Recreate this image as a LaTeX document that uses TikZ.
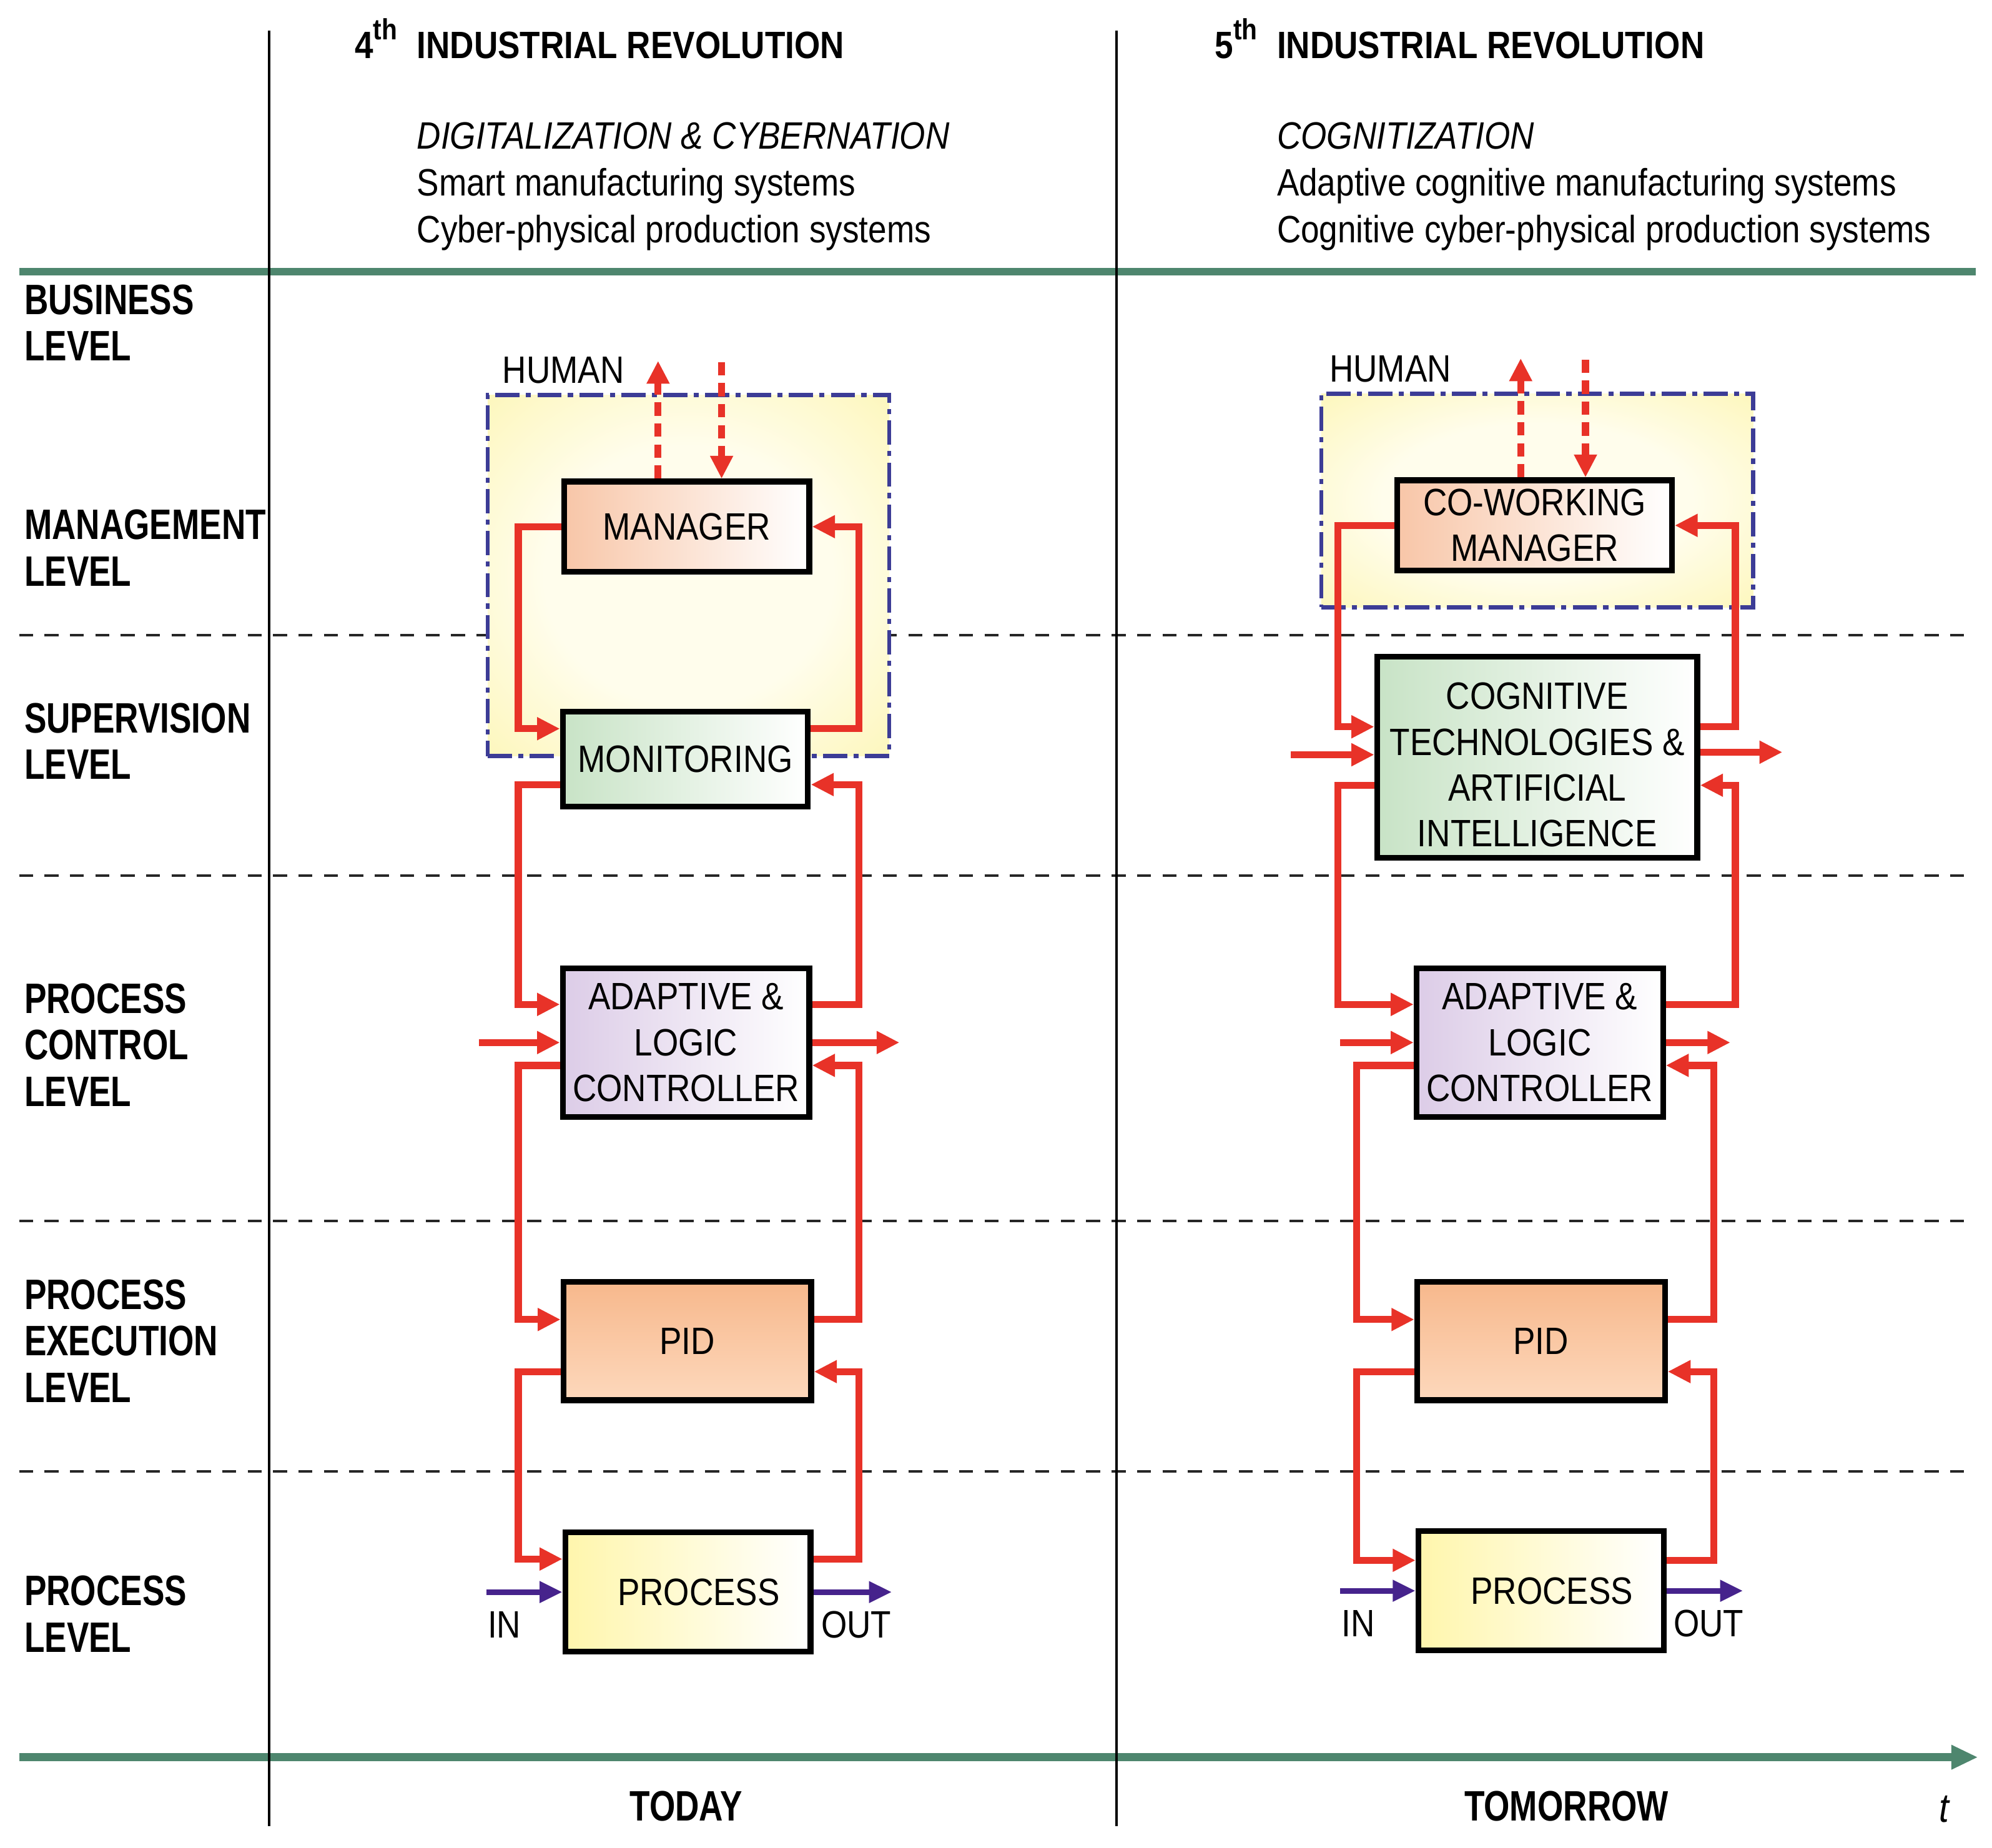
\documentclass[tikz,border=0pt]{standalone}
\usepackage{fontspec}
\setmainfont{Liberation Sans}[FakeStretch=0.87]
\newfontfamily\levelfont{Liberation Sans}[FakeStretch=0.78]
\usetikzlibrary{arrows.meta,calc}

\definecolor{axisgreen}{RGB}{78,134,110}
\definecolor{loopred}{RGB}{232,50,40}
\definecolor{flowpurple}{RGB}{70,35,140}
\definecolor{humanblue}{RGB}{60,60,150}
\definecolor{humanyellow}{RGB}{252,243,160}
\definecolor{humanlight}{RGB}{255,253,236}
\definecolor{mgrpeach}{RGB}{248,198,168}
\definecolor{mongreen}{RGB}{200,227,198}
\definecolor{ctllilac}{RGB}{220,204,231}
\definecolor{pidtop}{RGB}{247,184,140}
\definecolor{pidbottom}{RGB}{253,216,188}
\definecolor{procyellow}{RGB}{255,246,172}

\pgfdeclareradialshading{humanglow}{\pgfpoint{0bp}{0bp}}{color(0bp)=(humanlight); color(18bp)=(humanlight); color(46bp)=(humanyellow); color(80bp)=(humanyellow)}

\begin{document}
\begin{tikzpicture}[x=1pt,y=-1pt]
			\tikzset{
			    txt/.style={font=\fontsize{30}{36}\selectfont, inner sep=0pt},
			    lvl/.style={font=\levelfont\bfseries\fontsize{33.5}{36.5}\selectfont, align=left, inner sep=0pt, anchor=north west},
			    blk/.style={draw=black, line width=4.5pt, align=center, inner sep=0pt, font=\fontsize{30}{36}\selectfont},
			    humanbox/.style={draw=humanblue, line width=3.2pt, dash pattern=on 19pt off 5pt on 4pt off 5pt, shade, shading=humanglow},
			    redarr/.style={draw=loopred, line width=5.5pt, -{Triangle[length=18pt,width=17pt]}},
			    humarr/.style={redarr, dash pattern=on 10.5pt off 6pt},
			    flow/.style={draw=flowpurple, line width=4.5pt, -{Triangle[length=18pt,width=16pt]}},
			    level line/.style={draw=black!85, line width=1.8pt, dash pattern=on 11pt off 9pt}}
			\useasboundingbox (0,0) rectangle (1568,1454.4);
			% frame
			\draw[axisgreen, line width=6pt] (15,214) -- (1555,214);
			\draw[axisgreen, line width=6.5pt, -{Triangle[length=21pt,width=18pt]}] (15,1383) -- (1557,1383);
			\foreach \y in {500,689,961,1158}
			    \draw[level line] (15,\y) -- (1555,\y);
			\foreach \x in {212,879}
			    \draw[line width=1.8pt] (\x,24) -- (\x,1437);
			% levels
			\node[lvl] (bus) at (19,224) {BUSINESS\\LEVEL};
			\node[lvl] (man) at (19,401) {MANAGEMENT\\LEVEL};
			\node[lvl] (sup) at (19,553) {SUPERVISION\\LEVEL};
			\node[lvl] (pcl) at (19,774) {PROCESS\\CONTROL\\LEVEL};
			\node[lvl] (pex) at (19,1007) {PROCESS\\EXECUTION\\LEVEL};
			\node[lvl] (prl) at (19,1240) {PROCESS\\LEVEL};
			% headings
			\node[txt, font=\bfseries\fontsize{30}{36}\selectfont, anchor=base west] (rev4) at (328,46) {INDUSTRIAL REVOLUTION};
			\node[txt, font=\bfseries\fontsize{30}{36}\selectfont, anchor=base east] (ord4) at ([xshift=-15pt]rev4.base west) {4\raisebox{15pt}{\fontsize{23}{23}\selectfont th}};
			\node[txt, font=\bfseries\fontsize{30}{36}\selectfont, anchor=base west] (rev5) at (1005,46) {INDUSTRIAL REVOLUTION};
			\node[txt, font=\bfseries\fontsize{30}{36}\selectfont, anchor=base east] (ord5) at ([xshift=-15pt]rev5.base west) {5\raisebox{15pt}{\fontsize{23}{23}\selectfont th}};
			\node[txt, font=\fontsize{30}{37}\selectfont, align=left, anchor=north west] (sub4) at (328,96)
			    {\textit{DIGITALIZATION \& CYBERNATION}\\Smart manufacturing systems\\Cyber-physical production systems};
			\node[txt, font=\fontsize{30}{37}\selectfont, align=left, anchor=north west] (sub5) at (1005,96)
			    {\textit{COGNITIZATION}\\Adaptive cognitive manufacturing systems\\Cognitive cyber-physical production systems};
			\node[lvl, anchor=base] (today) at (540,1433) {TODAY};
			\node[lvl, anchor=base] (tomorrow) at (1233,1433) {TOMORROW};
			\node[txt, font=\fontsize{32}{36}\selectfont, anchor=base] (tlbl) at (1531,1434) {\textit{t}};

			% 4th revolution
			\node[humanbox, minimum width=316pt, minimum height=284pt] (hum4) at (542,453) {};
			\node[txt, anchor=base west] (hlbl4) at ([xshift=13pt,yshift=8pt]hum4.north west) {HUMAN};
			\node[blk, minimum width=193pt, minimum height=71pt, left color=mgrpeach, right color=white] (mgr4) at (540.5,414.5) {MANAGER};
			\node[blk, minimum width=193pt, minimum height=75pt, left color=mongreen, right color=white] (mon4) at (539.5,597.5) {MONITORING};
			\node[blk, minimum width=194pt, minimum height=117pt, left color=ctllilac, right color=white] (ctl4) at (540,820.5) {ADAPTIVE \&\\LOGIC\\CONTROLLER};
			\node[blk, minimum width=195pt, minimum height=93pt, top color=pidtop, bottom color=pidbottom] (pid4) at (541,1055.5) {PID};
			\node[blk, minimum width=193pt, minimum height=94pt, left color=procyellow, right color=white] (proc4) at (541.5,1253) {\hspace*{17pt}PROCESS};
			\coordinate (railL4) at (408,0);
			\coordinate (railR4) at (676,0);
			\coordinate (in4) at (377,0);
			\coordinate (out4) at (708,0);
			\coordinate (pin4) at (383,0);
			\coordinate (pout4) at (702,0);
			\coordinate (hup4) at (518,284);
			\coordinate (hdn4) at (568,285);
			\draw[humarr] (mgr4.north -| hup4) -- (hup4);
			\draw[humarr] (hdn4) -- (hdn4 |- mgr4.north);
			\draw[redarr] (mgr4.west) -- (mgr4.west -| railL4) |- ([yshift=24pt]mon4.west);
			\draw[redarr] ([yshift=24pt]mon4.east) -- ([yshift=24pt]mon4.east -| railR4) |- (mgr4.east);
			\draw[redarr] ([yshift=-20pt]mon4.west) -- ([yshift=-20pt]mon4.west -| railL4) |- ([yshift=30pt]ctl4.west);
			\draw[redarr] ([yshift=30pt]ctl4.east) -- ([yshift=30pt]ctl4.east -| railR4) |- ([yshift=-20pt]mon4.east);
			\draw[redarr] ([yshift=-18pt]ctl4.west) -- ([yshift=-18pt]ctl4.west -| railL4) |- ([yshift=17pt]pid4.west);
			\draw[redarr] ([yshift=17pt]pid4.east) -- ([yshift=17pt]pid4.east -| railR4) |- ([yshift=-18pt]ctl4.east);
			\draw[redarr] ([yshift=-24pt]pid4.west) -- ([yshift=-24pt]pid4.west -| railL4) |- ([yshift=26pt]proc4.west);
			\draw[redarr] ([yshift=26pt]proc4.east) -- ([yshift=26pt]proc4.east -| railR4) |- ([yshift=-24pt]pid4.east);
			\draw[redarr] (ctl4.west -| in4) -- (ctl4.west);
			\draw[redarr] (ctl4.east) -- (ctl4.east -| out4);
			\draw[flow] (proc4.west -| pin4) -- (proc4.west);
			\draw[flow] (proc4.east) -- (proc4.east -| pout4);
			\node[txt, anchor=base] (inl4) at (397,1289) {IN};
			\node[txt, anchor=base] (outl4) at (674,1289) {OUT};

			% 5th revolution
			\node[humanbox, minimum width=340pt, minimum height=168pt] (hum5) at (1210,394) {};
			\node[txt, anchor=base west] (hlbl5) at ([xshift=8pt,yshift=8pt]hum5.north west) {HUMAN};
			\node[blk, minimum width=216pt, minimum height=71pt, left color=mgrpeach, right color=white] (mgr5) at (1208,413.5) {CO-WORKING\\MANAGER};
			\node[blk, minimum width=252pt, minimum height=158pt, left color=mongreen, right color=white] (cog5) at (1210,596) {\rule{0pt}{33pt}COGNITIVE\\TECHNOLOGIES \&\\ARTIFICIAL\\INTELLIGENCE};
			\node[blk, minimum width=194pt, minimum height=117pt, left color=ctllilac, right color=white] (ctl5) at (1212,820.5) {ADAPTIVE \&\\LOGIC\\CONTROLLER};
			\node[blk, minimum width=195pt, minimum height=93pt, top color=pidtop, bottom color=pidbottom] (pid5) at (1213,1055.5) {PID};
			\node[blk, minimum width=193pt, minimum height=94pt, left color=procyellow, right color=white] (proc5) at (1213,1252) {\hspace*{17pt}PROCESS};
			\coordinate (railLa5) at (1053,0);
			\coordinate (railLb5) at (1068,0);
			\coordinate (railRa5) at (1366,0);
			\coordinate (railRb5) at (1349,0);
			\coordinate (cin5) at (1016,0);
			\coordinate (cout5) at (1403,0);
			\coordinate (in5) at (1055,0);
			\coordinate (out5) at (1362,0);
			\coordinate (pin5) at (1055,0);
			\coordinate (pout5) at (1372,0);
			\coordinate (hup5) at (1197,282);
			\coordinate (hdn5) at (1248,283);
			\draw[humarr] (mgr5.north -| hup5) -- (hup5);
			\draw[humarr] (hdn5) -- (hdn5 |- mgr5.north);
			\draw[redarr] (mgr5.west) -- (mgr5.west -| railLa5) |- ([yshift=24pt]cog5.west);
			\draw[redarr] ([yshift=24pt]cog5.east) -- ([yshift=24pt]cog5.east -| railRa5) |- (mgr5.east);
			\draw[redarr] ([yshift=-22pt]cog5.west) -- ([yshift=-22pt]cog5.west -| railLa5) |- ([yshift=30pt]ctl5.west);
			\draw[redarr] ([yshift=30pt]ctl5.east) -- ([yshift=30pt]ctl5.east -| railRa5) |- ([yshift=-22pt]cog5.east);
			\draw[redarr] ([yshift=-18pt]ctl5.west) -- ([yshift=-18pt]ctl5.west -| railLb5) |- ([yshift=17pt]pid5.west);
			\draw[redarr] ([yshift=17pt]pid5.east) -- ([yshift=17pt]pid5.east -| railRb5) |- ([yshift=-18pt]ctl5.east);
			\draw[redarr] ([yshift=-24pt]pid5.west) -- ([yshift=-24pt]pid5.west -| railLb5) |- ([yshift=24pt]proc5.west);
			\draw[redarr] ([yshift=24pt]proc5.east) -- ([yshift=24pt]proc5.east -| railRb5) |- ([yshift=-24pt]pid5.east);
			\draw[redarr] ([yshift=2pt]cog5.west -| cin5) -- ([yshift=2pt]cog5.west);
			\draw[redarr] ([yshift=4pt]cog5.east) -- ([yshift=4pt]cog5.east -| cout5);
			\draw[redarr] (ctl5.west -| in5) -- (ctl5.west);
			\draw[redarr] (ctl5.east) -- (ctl5.east -| out5);
			\draw[flow] (proc5.west -| pin5) -- (proc5.west);
			\draw[flow] (proc5.east) -- (proc5.east -| pout5);
			\node[txt, anchor=base] (inl5) at (1069,1288) {IN};
			\node[txt, anchor=base] (outl5) at (1345,1288) {OUT};
\end{tikzpicture}
\end{document}
